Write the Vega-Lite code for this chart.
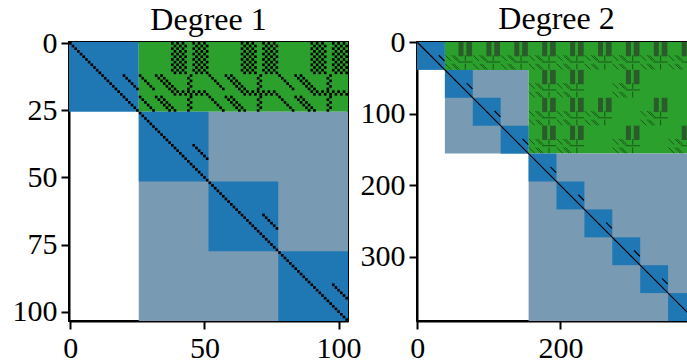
{
"$schema": "https://vega.github.io/schema/vega-lite/v6.json",
"padding": {"left": 11, "top": 2, "right": 0, "bottom": 0},
"background": "white",
"config": {
 "view": {"stroke": "black", "strokeWidth": 2},
 "axis": {"labelFont": "Liberation Serif", "labelFontSize": 30, "labelColor": "black", "tickColor": "black", "tickSize": 8, "tickWidth": 2, "domainColor": "black", "domainWidth": 2, "grid": false, "labelPadding": 4, "title": null, "labelFlush": false, "zindex": 1},
 "title": {"font": "Liberation Serif", "fontSize": 32, "fontWeight": "normal", "color": "black", "offset": -9, "anchor": "middle"}
},
"spacing": 69,
"bounds": "flush",
"resolve": {"scale": {"x": "independent", "y": "independent"}},
"hconcat": [
{
 "width": 279, "height": 279,
 "title": "Degree 1",
 "layer": [
  {"data": {"name": "blocks1"}, "mark": {"type": "rect"},
   "encoding": {
    "x": {"field": "c0", "type": "quantitative", "scale": {"domain": [-0.5, 103.5], "nice": false, "zero": false}, "axis": {"values": [0, 50, 100]}},
    "x2": {"field": "c1"},
    "y": {"field": "r0", "type": "quantitative", "scale": {"domain": [-0.5, 103.5], "nice": false, "zero": false, "reverse": true}, "axis": {"values": [0, 25, 50, 75, 100]}},
    "y2": {"field": "r1"},
    "color": {"field": "t", "type": "nominal", "scale": {"domain": ["diag", "coupling", "off"], "range": ["#1f77b4", "#2ca02c", "#789bb3"]}, "legend": null}
   }},
  {"data": {"name": "dots1"}, "mark": {"type": "square", "color": "black", "size": 7, "opacity": 1, "filled": true},
   "encoding": {"x": {"field": "c", "type": "quantitative"}, "y": {"field": "r", "type": "quantitative"}}}
 ]
},
{
 "width": 279, "height": 279,
 "title": "Degree 2",
 "layer": [
  {"data": {"name": "blocks2"}, "mark": {"type": "rect"},
   "encoding": {
    "x": {"field": "c0", "type": "quantitative", "scale": {"domain": [-0.5, 389.5], "nice": false, "zero": false}, "axis": {"values": [0, 200]}},
    "x2": {"field": "c1"},
    "y": {"field": "r0", "type": "quantitative", "scale": {"domain": [-0.5, 389.5], "nice": false, "zero": false, "reverse": true}, "axis": {"values": [0, 100, 200, 300]}},
    "y2": {"field": "r1"},
    "color": {"field": "t", "type": "nominal", "scale": {"domain": ["diag", "coupling", "off"], "range": ["#1f77b4", "#2ca02c", "#789bb3"]}, "legend": null}
   }},
  {"data": {"name": "bars2"}, "mark": {"type": "rect", "color": "#2a5c2a"},
   "encoding": {"x": {"field": "c0", "type": "quantitative"}, "x2": {"field": "c1"}, "y": {"field": "r0", "type": "quantitative"}, "y2": {"field": "r1"}}},
  {"data": {"name": "tiles2"}, "mark": {"type": "rule", "color": "#0f300f", "strokeWidth": 1, "opacity": 0.65},
   "encoding": {"x": {"field": "c0", "type": "quantitative"}, "x2": {"field": "c1"}, "y": {"field": "r0", "type": "quantitative"}, "y2": {"field": "r1"}}},
  {"data": {"name": "diag2"}, "mark": {"type": "rule", "color": "black", "strokeWidth": 1.2},
   "encoding": {"x": {"field": "c0", "type": "quantitative"}, "x2": {"field": "c1"}, "y": {"field": "r0", "type": "quantitative"}, "y2": {"field": "r1"}}}
 ]
}
],
"datasets": {
"blocks1": [
{"r0":-0.5,"r1":25.5,"c0":-0.5,"c1":25.5,"t":"diag"},
{"r0":-0.5,"r1":25.5,"c0":25.5,"c1":103.5,"t":"coupling"},
{"r0":25.5,"r1":103.5,"c0":25.5,"c1":103.5,"t":"off"},
{"r0":25.5,"r1":51.5,"c0":25.5,"c1":51.5,"t":"diag"},
{"r0":51.5,"r1":77.5,"c0":51.5,"c1":77.5,"t":"diag"},
{"r0":77.5,"r1":103.5,"c0":77.5,"c1":103.5,"t":"diag"}
],
"blocks2": [
{"r0":-0.5,"r1":38.5,"c0":38.5,"c1":389.5,"t":"coupling"},
{"r0":38.5,"r1":155.5,"c0":38.5,"c1":155.5,"t":"off"},
{"r0":38.5,"r1":155.5,"c0":155.5,"c1":389.5,"t":"coupling"},
{"r0":155.5,"r1":389.5,"c0":155.5,"c1":389.5,"t":"off"},
{"r0":-0.5,"r1":38.5,"c0":-0.5,"c1":38.5,"t":"diag"},
{"r0":38.5,"r1":77.5,"c0":38.5,"c1":77.5,"t":"diag"},
{"r0":77.5,"r1":116.5,"c0":77.5,"c1":116.5,"t":"diag"},
{"r0":116.5,"r1":155.5,"c0":116.5,"c1":155.5,"t":"diag"},
{"r0":155.5,"r1":194.5,"c0":155.5,"c1":194.5,"t":"diag"},
{"r0":194.5,"r1":233.5,"c0":194.5,"c1":233.5,"t":"diag"},
{"r0":233.5,"r1":272.5,"c0":233.5,"c1":272.5,"t":"diag"},
{"r0":272.5,"r1":311.5,"c0":272.5,"c1":311.5,"t":"diag"},
{"r0":311.5,"r1":350.5,"c0":311.5,"c1":350.5,"t":"diag"},
{"r0":350.5,"r1":389.5,"c0":350.5,"c1":389.5,"t":"diag"}
],
"bars2": [
{"r0":-0.5,"r1":19.5,"c0":57.5,"c1":64.5},{"r0":-0.5,"r1":19.5,"c0":68.5,"c1":76.5},
{"r0":-0.5,"r1":19.5,"c0":96.5,"c1":103.5},{"r0":-0.5,"r1":19.5,"c0":107.5,"c1":115.5},
{"r0":-0.5,"r1":19.5,"c0":135.5,"c1":142.5},{"r0":-0.5,"r1":19.5,"c0":146.5,"c1":154.5},
{"r0":-0.5,"r1":19.5,"c0":174.5,"c1":181.5},{"r0":-0.5,"r1":19.5,"c0":185.5,"c1":193.5},
{"r0":-0.5,"r1":19.5,"c0":213.5,"c1":220.5},{"r0":-0.5,"r1":19.5,"c0":224.5,"c1":232.5},
{"r0":-0.5,"r1":19.5,"c0":252.5,"c1":259.5},{"r0":-0.5,"r1":19.5,"c0":263.5,"c1":271.5},
{"r0":-0.5,"r1":19.5,"c0":291.5,"c1":298.5},{"r0":-0.5,"r1":19.5,"c0":302.5,"c1":310.5},
{"r0":-0.5,"r1":19.5,"c0":330.5,"c1":337.5},{"r0":-0.5,"r1":19.5,"c0":341.5,"c1":349.5},
{"r0":-0.5,"r1":19.5,"c0":369.5,"c1":376.5},{"r0":-0.5,"r1":19.5,"c0":380.5,"c1":388.5},
{"r0":38.5,"r1":58.5,"c0":174.5,"c1":181.5},{"r0":38.5,"r1":58.5,"c0":185.5,"c1":193.5},
{"r0":38.5,"r1":58.5,"c0":213.5,"c1":220.5},{"r0":38.5,"r1":58.5,"c0":224.5,"c1":232.5},
{"r0":38.5,"r1":58.5,"c0":291.5,"c1":298.5},{"r0":38.5,"r1":58.5,"c0":302.5,"c1":310.5},
{"r0":77.5,"r1":97.5,"c0":174.5,"c1":181.5},{"r0":77.5,"r1":97.5,"c0":185.5,"c1":193.5},
{"r0":77.5,"r1":97.5,"c0":213.5,"c1":220.5},{"r0":77.5,"r1":97.5,"c0":224.5,"c1":232.5},
{"r0":77.5,"r1":97.5,"c0":252.5,"c1":259.5},{"r0":77.5,"r1":97.5,"c0":263.5,"c1":271.5},
{"r0":77.5,"r1":97.5,"c0":330.5,"c1":337.5},{"r0":77.5,"r1":97.5,"c0":341.5,"c1":349.5},
{"r0":116.5,"r1":136.5,"c0":174.5,"c1":181.5},{"r0":116.5,"r1":136.5,"c0":185.5,"c1":193.5},
{"r0":116.5,"r1":136.5,"c0":213.5,"c1":220.5},{"r0":116.5,"r1":136.5,"c0":224.5,"c1":232.5},
{"r0":116.5,"r1":136.5,"c0":291.5,"c1":298.5},{"r0":116.5,"r1":136.5,"c0":302.5,"c1":310.5},
{"r0":116.5,"r1":136.5,"c0":369.5,"c1":376.5},{"r0":116.5,"r1":136.5,"c0":380.5,"c1":388.5}
],
"diag2": [
{"r0":-0.5,"c0":-0.5,"r1":389.5,"c1":389.5},
{"r0":18,"c0":30,"r1":26,"c1":38},{"r0":57,"c0":69,"r1":65,"c1":77},{"r0":96,"c0":108,"r1":104,"c1":116},{"r0":135,"c0":147,"r1":143,"c1":155},{"r0":174,"c0":186,"r1":182,"c1":194},{"r0":213,"c0":225,"r1":221,"c1":233},{"r0":252,"c0":264,"r1":260,"c1":272},{"r0":291,"c0":303,"r1":299,"c1":311},{"r0":330,"c0":342,"r1":338,"c1":350},{"r0":369,"c0":381,"r1":377,"c1":389}
],
"tiles2": [
{"r0":18,"c0":39,"r1":26,"c1":47},{"r0":18,"c0":48,"r1":26,"c1":56},{"r0":18,"c0":51,"r1":26,"c1":59},{"r0":18,"c0":67,"r1":26,"c1":67},{"r0":27.5,"c0":57,"r1":27.5,"c1":77},{"r0":30,"c0":39,"r1":38,"c1":47},{"r0":30,"c0":48,"r1":38,"c1":56},{"r0":30,"c0":51,"r1":38,"c1":59},{"r0":30,"c0":67,"r1":38,"c1":67},
{"r0":18,"c0":78,"r1":26,"c1":86},{"r0":18,"c0":87,"r1":26,"c1":95},{"r0":18,"c0":90,"r1":26,"c1":98},{"r0":18,"c0":106,"r1":26,"c1":106},{"r0":27.5,"c0":96,"r1":27.5,"c1":116},{"r0":30,"c0":78,"r1":38,"c1":86},{"r0":30,"c0":87,"r1":38,"c1":95},{"r0":30,"c0":90,"r1":38,"c1":98},{"r0":30,"c0":106,"r1":38,"c1":106},
{"r0":18,"c0":117,"r1":26,"c1":125},{"r0":18,"c0":126,"r1":26,"c1":134},{"r0":18,"c0":129,"r1":26,"c1":137},{"r0":18,"c0":145,"r1":26,"c1":145},{"r0":27.5,"c0":135,"r1":27.5,"c1":155},{"r0":30,"c0":117,"r1":38,"c1":125},{"r0":30,"c0":126,"r1":38,"c1":134},{"r0":30,"c0":129,"r1":38,"c1":137},{"r0":30,"c0":145,"r1":38,"c1":145},
{"r0":18,"c0":156,"r1":26,"c1":164},{"r0":18,"c0":165,"r1":26,"c1":173},{"r0":18,"c0":168,"r1":26,"c1":176},{"r0":18,"c0":184,"r1":26,"c1":184},{"r0":27.5,"c0":174,"r1":27.5,"c1":194},{"r0":30,"c0":156,"r1":38,"c1":164},{"r0":30,"c0":165,"r1":38,"c1":173},{"r0":30,"c0":168,"r1":38,"c1":176},{"r0":30,"c0":184,"r1":38,"c1":184},
{"r0":18,"c0":195,"r1":26,"c1":203},{"r0":18,"c0":204,"r1":26,"c1":212},{"r0":18,"c0":207,"r1":26,"c1":215},{"r0":18,"c0":223,"r1":26,"c1":223},{"r0":27.5,"c0":213,"r1":27.5,"c1":233},{"r0":30,"c0":195,"r1":38,"c1":203},{"r0":30,"c0":204,"r1":38,"c1":212},{"r0":30,"c0":207,"r1":38,"c1":215},{"r0":30,"c0":223,"r1":38,"c1":223},
{"r0":18,"c0":234,"r1":26,"c1":242},{"r0":18,"c0":243,"r1":26,"c1":251},{"r0":18,"c0":246,"r1":26,"c1":254},{"r0":18,"c0":262,"r1":26,"c1":262},{"r0":27.5,"c0":252,"r1":27.5,"c1":272},{"r0":30,"c0":234,"r1":38,"c1":242},{"r0":30,"c0":243,"r1":38,"c1":251},{"r0":30,"c0":246,"r1":38,"c1":254},{"r0":30,"c0":262,"r1":38,"c1":262},
{"r0":18,"c0":273,"r1":26,"c1":281},{"r0":18,"c0":282,"r1":26,"c1":290},{"r0":18,"c0":285,"r1":26,"c1":293},{"r0":18,"c0":301,"r1":26,"c1":301},{"r0":27.5,"c0":291,"r1":27.5,"c1":311},{"r0":30,"c0":273,"r1":38,"c1":281},{"r0":30,"c0":282,"r1":38,"c1":290},{"r0":30,"c0":285,"r1":38,"c1":293},{"r0":30,"c0":301,"r1":38,"c1":301},
{"r0":18,"c0":312,"r1":26,"c1":320},{"r0":18,"c0":321,"r1":26,"c1":329},{"r0":18,"c0":324,"r1":26,"c1":332},{"r0":18,"c0":340,"r1":26,"c1":340},{"r0":27.5,"c0":330,"r1":27.5,"c1":350},{"r0":30,"c0":312,"r1":38,"c1":320},{"r0":30,"c0":321,"r1":38,"c1":329},{"r0":30,"c0":324,"r1":38,"c1":332},{"r0":30,"c0":340,"r1":38,"c1":340},
{"r0":18,"c0":351,"r1":26,"c1":359},{"r0":18,"c0":360,"r1":26,"c1":368},{"r0":18,"c0":363,"r1":26,"c1":371},{"r0":18,"c0":379,"r1":26,"c1":379},{"r0":27.5,"c0":369,"r1":27.5,"c1":389},{"r0":30,"c0":351,"r1":38,"c1":359},{"r0":30,"c0":360,"r1":38,"c1":368},{"r0":30,"c0":363,"r1":38,"c1":371},{"r0":30,"c0":379,"r1":38,"c1":379},
{"r0":57,"c0":156,"r1":65,"c1":164},{"r0":57,"c0":165,"r1":65,"c1":173},{"r0":57,"c0":168,"r1":65,"c1":176},{"r0":57,"c0":184,"r1":65,"c1":184},{"r0":66.5,"c0":174,"r1":66.5,"c1":194},{"r0":69,"c0":156,"r1":77,"c1":164},{"r0":69,"c0":165,"r1":77,"c1":173},{"r0":69,"c0":168,"r1":77,"c1":176},{"r0":69,"c0":184,"r1":77,"c1":184},
{"r0":57,"c0":195,"r1":65,"c1":203},{"r0":57,"c0":204,"r1":65,"c1":212},{"r0":57,"c0":207,"r1":65,"c1":215},{"r0":57,"c0":223,"r1":65,"c1":223},{"r0":66.5,"c0":213,"r1":66.5,"c1":233},{"r0":69,"c0":195,"r1":77,"c1":203},{"r0":69,"c0":204,"r1":77,"c1":212},{"r0":69,"c0":207,"r1":77,"c1":215},{"r0":69,"c0":223,"r1":77,"c1":223},
{"r0":57,"c0":273,"r1":65,"c1":281},{"r0":57,"c0":282,"r1":65,"c1":290},{"r0":57,"c0":285,"r1":65,"c1":293},{"r0":57,"c0":301,"r1":65,"c1":301},{"r0":66.5,"c0":291,"r1":66.5,"c1":311},{"r0":69,"c0":273,"r1":77,"c1":281},{"r0":69,"c0":282,"r1":77,"c1":290},{"r0":69,"c0":285,"r1":77,"c1":293},{"r0":69,"c0":301,"r1":77,"c1":301},
{"r0":96,"c0":156,"r1":104,"c1":164},{"r0":96,"c0":165,"r1":104,"c1":173},{"r0":96,"c0":168,"r1":104,"c1":176},{"r0":96,"c0":184,"r1":104,"c1":184},{"r0":105.5,"c0":174,"r1":105.5,"c1":194},{"r0":108,"c0":156,"r1":116,"c1":164},{"r0":108,"c0":165,"r1":116,"c1":173},{"r0":108,"c0":168,"r1":116,"c1":176},{"r0":108,"c0":184,"r1":116,"c1":184},
{"r0":96,"c0":195,"r1":104,"c1":203},{"r0":96,"c0":204,"r1":104,"c1":212},{"r0":96,"c0":207,"r1":104,"c1":215},{"r0":96,"c0":223,"r1":104,"c1":223},{"r0":105.5,"c0":213,"r1":105.5,"c1":233},{"r0":108,"c0":195,"r1":116,"c1":203},{"r0":108,"c0":204,"r1":116,"c1":212},{"r0":108,"c0":207,"r1":116,"c1":215},{"r0":108,"c0":223,"r1":116,"c1":223},
{"r0":96,"c0":234,"r1":104,"c1":242},{"r0":96,"c0":243,"r1":104,"c1":251},{"r0":96,"c0":246,"r1":104,"c1":254},{"r0":96,"c0":262,"r1":104,"c1":262},{"r0":105.5,"c0":252,"r1":105.5,"c1":272},{"r0":108,"c0":234,"r1":116,"c1":242},{"r0":108,"c0":243,"r1":116,"c1":251},{"r0":108,"c0":246,"r1":116,"c1":254},{"r0":108,"c0":262,"r1":116,"c1":262},
{"r0":96,"c0":312,"r1":104,"c1":320},{"r0":96,"c0":321,"r1":104,"c1":329},{"r0":96,"c0":324,"r1":104,"c1":332},{"r0":96,"c0":340,"r1":104,"c1":340},{"r0":105.5,"c0":330,"r1":105.5,"c1":350},{"r0":108,"c0":312,"r1":116,"c1":320},{"r0":108,"c0":321,"r1":116,"c1":329},{"r0":108,"c0":324,"r1":116,"c1":332},{"r0":108,"c0":340,"r1":116,"c1":340},
{"r0":135,"c0":156,"r1":143,"c1":164},{"r0":135,"c0":165,"r1":143,"c1":173},{"r0":135,"c0":168,"r1":143,"c1":176},{"r0":135,"c0":184,"r1":143,"c1":184},{"r0":144.5,"c0":174,"r1":144.5,"c1":194},{"r0":147,"c0":156,"r1":155,"c1":164},{"r0":147,"c0":165,"r1":155,"c1":173},{"r0":147,"c0":168,"r1":155,"c1":176},{"r0":147,"c0":184,"r1":155,"c1":184},
{"r0":135,"c0":195,"r1":143,"c1":203},{"r0":135,"c0":204,"r1":143,"c1":212},{"r0":135,"c0":207,"r1":143,"c1":215},{"r0":135,"c0":223,"r1":143,"c1":223},{"r0":144.5,"c0":213,"r1":144.5,"c1":233},{"r0":147,"c0":195,"r1":155,"c1":203},{"r0":147,"c0":204,"r1":155,"c1":212},{"r0":147,"c0":207,"r1":155,"c1":215},{"r0":147,"c0":223,"r1":155,"c1":223},
{"r0":135,"c0":273,"r1":143,"c1":281},{"r0":135,"c0":282,"r1":143,"c1":290},{"r0":135,"c0":285,"r1":143,"c1":293},{"r0":135,"c0":301,"r1":143,"c1":301},{"r0":144.5,"c0":291,"r1":144.5,"c1":311},{"r0":147,"c0":273,"r1":155,"c1":281},{"r0":147,"c0":282,"r1":155,"c1":290},{"r0":147,"c0":285,"r1":155,"c1":293},{"r0":147,"c0":301,"r1":155,"c1":301},
{"r0":135,"c0":351,"r1":143,"c1":359},{"r0":135,"c0":360,"r1":143,"c1":368},{"r0":135,"c0":363,"r1":143,"c1":371},{"r0":135,"c0":379,"r1":143,"c1":379},{"r0":144.5,"c0":369,"r1":144.5,"c1":389},{"r0":147,"c0":351,"r1":155,"c1":359},{"r0":147,"c0":360,"r1":155,"c1":368},{"r0":147,"c0":363,"r1":155,"c1":371},{"r0":147,"c0":379,"r1":155,"c1":379}
],
"dots1": [
{"r":0,"c":0},{"r":1,"c":1},{"r":2,"c":2},{"r":3,"c":3},{"r":4,"c":4},{"r":5,"c":5},{"r":6,"c":6},{"r":7,"c":7},{"r":8,"c":8},{"r":9,"c":9},
{"r":10,"c":10},{"r":11,"c":11},{"r":12,"c":12},{"r":13,"c":13},{"r":14,"c":14},{"r":15,"c":15},{"r":16,"c":16},{"r":17,"c":17},{"r":18,"c":18},{"r":19,"c":19},
{"r":20,"c":20},{"r":21,"c":21},{"r":22,"c":22},{"r":23,"c":23},{"r":24,"c":24},{"r":25,"c":25},{"r":26,"c":26},{"r":27,"c":27},{"r":28,"c":28},{"r":29,"c":29},
{"r":30,"c":30},{"r":31,"c":31},{"r":32,"c":32},{"r":33,"c":33},{"r":34,"c":34},{"r":35,"c":35},{"r":36,"c":36},{"r":37,"c":37},{"r":38,"c":38},{"r":39,"c":39},
{"r":40,"c":40},{"r":41,"c":41},{"r":42,"c":42},{"r":43,"c":43},{"r":44,"c":44},{"r":45,"c":45},{"r":46,"c":46},{"r":47,"c":47},{"r":48,"c":48},{"r":49,"c":49},
{"r":50,"c":50},{"r":51,"c":51},{"r":52,"c":52},{"r":53,"c":53},{"r":54,"c":54},{"r":55,"c":55},{"r":56,"c":56},{"r":57,"c":57},{"r":58,"c":58},{"r":59,"c":59},
{"r":60,"c":60},{"r":61,"c":61},{"r":62,"c":62},{"r":63,"c":63},{"r":64,"c":64},{"r":65,"c":65},{"r":66,"c":66},{"r":67,"c":67},{"r":68,"c":68},{"r":69,"c":69},
{"r":70,"c":70},{"r":71,"c":71},{"r":72,"c":72},{"r":73,"c":73},{"r":74,"c":74},{"r":75,"c":75},{"r":76,"c":76},{"r":77,"c":77},{"r":78,"c":78},{"r":79,"c":79},
{"r":80,"c":80},{"r":81,"c":81},{"r":82,"c":82},{"r":83,"c":83},{"r":84,"c":84},{"r":85,"c":85},{"r":86,"c":86},{"r":87,"c":87},{"r":88,"c":88},{"r":89,"c":89},
{"r":90,"c":90},{"r":91,"c":91},{"r":92,"c":92},{"r":93,"c":93},{"r":94,"c":94},{"r":95,"c":95},{"r":96,"c":96},{"r":97,"c":97},{"r":98,"c":98},{"r":99,"c":99},
{"r":100,"c":100},{"r":101,"c":101},{"r":102,"c":102},{"r":103,"c":103},
{"r":12,"c":20},{"r":13,"c":21},{"r":14,"c":22},{"r":15,"c":23},{"r":16,"c":24},{"r":17,"c":25},
{"r":38,"c":46},{"r":39,"c":47},{"r":40,"c":48},{"r":41,"c":49},{"r":42,"c":50},{"r":43,"c":51},
{"r":64,"c":72},{"r":65,"c":73},{"r":66,"c":74},{"r":67,"c":75},{"r":68,"c":76},{"r":69,"c":77},
{"r":90,"c":98},{"r":91,"c":99},{"r":92,"c":100},{"r":93,"c":101},{"r":94,"c":102},{"r":95,"c":103},
{"r":0,"c":38},{"r":0,"c":40},{"r":0,"c":42},{"r":0,"c":46},{"r":0,"c":48},{"r":0,"c":50},{"r":0,"c":64},{"r":0,"c":66},{"r":0,"c":68},{"r":0,"c":72},{"r":0,"c":74},{"r":0,"c":76},{"r":0,"c":90},{"r":0,"c":92},{"r":0,"c":94},{"r":0,"c":98},{"r":0,"c":100},{"r":0,"c":102},
{"r":1,"c":39},{"r":1,"c":41},{"r":1,"c":43},{"r":1,"c":47},{"r":1,"c":49},{"r":1,"c":51},{"r":1,"c":65},{"r":1,"c":67},{"r":1,"c":69},{"r":1,"c":73},{"r":1,"c":75},{"r":1,"c":77},{"r":1,"c":91},{"r":1,"c":93},{"r":1,"c":95},{"r":1,"c":99},{"r":1,"c":101},{"r":1,"c":103},
{"r":2,"c":38},{"r":2,"c":40},{"r":2,"c":42},{"r":2,"c":46},{"r":2,"c":48},{"r":2,"c":50},{"r":2,"c":64},{"r":2,"c":66},{"r":2,"c":68},{"r":2,"c":72},{"r":2,"c":74},{"r":2,"c":76},{"r":2,"c":90},{"r":2,"c":92},{"r":2,"c":94},{"r":2,"c":98},{"r":2,"c":100},{"r":2,"c":102},
{"r":3,"c":39},{"r":3,"c":41},{"r":3,"c":43},{"r":3,"c":47},{"r":3,"c":49},{"r":3,"c":51},{"r":3,"c":65},{"r":3,"c":67},{"r":3,"c":69},{"r":3,"c":73},{"r":3,"c":75},{"r":3,"c":77},{"r":3,"c":91},{"r":3,"c":93},{"r":3,"c":95},{"r":3,"c":99},{"r":3,"c":101},{"r":3,"c":103},
{"r":4,"c":38},{"r":4,"c":40},{"r":4,"c":42},{"r":4,"c":46},{"r":4,"c":48},{"r":4,"c":50},{"r":4,"c":64},{"r":4,"c":66},{"r":4,"c":68},{"r":4,"c":72},{"r":4,"c":74},{"r":4,"c":76},{"r":4,"c":90},{"r":4,"c":92},{"r":4,"c":94},{"r":4,"c":98},{"r":4,"c":100},{"r":4,"c":102},
{"r":5,"c":39},{"r":5,"c":41},{"r":5,"c":43},{"r":5,"c":47},{"r":5,"c":49},{"r":5,"c":51},{"r":5,"c":65},{"r":5,"c":67},{"r":5,"c":69},{"r":5,"c":73},{"r":5,"c":75},{"r":5,"c":77},{"r":5,"c":91},{"r":5,"c":93},{"r":5,"c":95},{"r":5,"c":99},{"r":5,"c":101},{"r":5,"c":103},
{"r":6,"c":38},{"r":6,"c":40},{"r":6,"c":42},{"r":6,"c":46},{"r":6,"c":48},{"r":6,"c":50},{"r":6,"c":64},{"r":6,"c":66},{"r":6,"c":68},{"r":6,"c":72},{"r":6,"c":74},{"r":6,"c":76},{"r":6,"c":90},{"r":6,"c":92},{"r":6,"c":94},{"r":6,"c":98},{"r":6,"c":100},{"r":6,"c":102},
{"r":7,"c":39},{"r":7,"c":41},{"r":7,"c":43},{"r":7,"c":47},{"r":7,"c":49},{"r":7,"c":51},{"r":7,"c":65},{"r":7,"c":67},{"r":7,"c":69},{"r":7,"c":73},{"r":7,"c":75},{"r":7,"c":77},{"r":7,"c":91},{"r":7,"c":93},{"r":7,"c":95},{"r":7,"c":99},{"r":7,"c":101},{"r":7,"c":103},
{"r":8,"c":38},{"r":8,"c":40},{"r":8,"c":42},{"r":8,"c":46},{"r":8,"c":48},{"r":8,"c":50},{"r":8,"c":64},{"r":8,"c":66},{"r":8,"c":68},{"r":8,"c":72},{"r":8,"c":74},{"r":8,"c":76},{"r":8,"c":90},{"r":8,"c":92},{"r":8,"c":94},{"r":8,"c":98},{"r":8,"c":100},{"r":8,"c":102},
{"r":9,"c":39},{"r":9,"c":41},{"r":9,"c":43},{"r":9,"c":47},{"r":9,"c":49},{"r":9,"c":51},{"r":9,"c":65},{"r":9,"c":67},{"r":9,"c":69},{"r":9,"c":73},{"r":9,"c":75},{"r":9,"c":77},{"r":9,"c":91},{"r":9,"c":93},{"r":9,"c":95},{"r":9,"c":99},{"r":9,"c":101},{"r":9,"c":103},
{"r":10,"c":38},{"r":10,"c":40},{"r":10,"c":42},{"r":10,"c":46},{"r":10,"c":48},{"r":10,"c":50},{"r":10,"c":64},{"r":10,"c":66},{"r":10,"c":68},{"r":10,"c":72},{"r":10,"c":74},{"r":10,"c":76},{"r":10,"c":90},{"r":10,"c":92},{"r":10,"c":94},{"r":10,"c":98},{"r":10,"c":100},{"r":10,"c":102},
{"r":11,"c":39},{"r":11,"c":41},{"r":11,"c":43},{"r":11,"c":47},{"r":11,"c":49},{"r":11,"c":51},{"r":11,"c":65},{"r":11,"c":67},{"r":11,"c":69},{"r":11,"c":73},{"r":11,"c":75},{"r":11,"c":77},{"r":11,"c":91},{"r":11,"c":93},{"r":11,"c":95},{"r":11,"c":99},{"r":11,"c":101},{"r":11,"c":103},
{"r":12,"c":26},{"r":13,"c":27},{"r":14,"c":28},{"r":15,"c":29},{"r":16,"c":30},{"r":17,"c":31},
{"r":12,"c":52},{"r":13,"c":53},{"r":14,"c":54},{"r":15,"c":55},{"r":16,"c":56},{"r":17,"c":57},
{"r":12,"c":78},{"r":13,"c":79},{"r":14,"c":80},{"r":15,"c":81},{"r":16,"c":82},{"r":17,"c":83},
{"r":12,"c":32},{"r":13,"c":33},{"r":14,"c":34},{"r":15,"c":35},{"r":16,"c":36},{"r":17,"c":37},
{"r":12,"c":58},{"r":13,"c":59},{"r":14,"c":60},{"r":15,"c":61},{"r":16,"c":62},{"r":17,"c":63},
{"r":12,"c":84},{"r":13,"c":85},{"r":14,"c":86},{"r":15,"c":87},{"r":16,"c":88},{"r":17,"c":89},
{"r":12,"c":34},{"r":13,"c":35},{"r":14,"c":36},{"r":15,"c":37},{"r":16,"c":38},{"r":17,"c":39},
{"r":12,"c":60},{"r":13,"c":61},{"r":14,"c":62},{"r":15,"c":63},{"r":16,"c":64},{"r":17,"c":65},
{"r":12,"c":86},{"r":13,"c":87},{"r":14,"c":88},{"r":15,"c":89},{"r":16,"c":90},{"r":17,"c":91},
{"r":12,"c":45},{"r":13,"c":44},{"r":14,"c":45},{"r":15,"c":44},{"r":16,"c":45},{"r":17,"c":44},
{"r":12,"c":71},{"r":13,"c":70},{"r":14,"c":71},{"r":15,"c":70},{"r":16,"c":71},{"r":17,"c":70},
{"r":12,"c":97},{"r":13,"c":96},{"r":14,"c":97},{"r":15,"c":96},{"r":16,"c":97},{"r":17,"c":96},
{"r":18,"c":38},{"r":19,"c":39},{"r":18,"c":40},{"r":19,"c":41},{"r":18,"c":42},{"r":19,"c":43},{"r":18,"c":44},{"r":19,"c":45},{"r":18,"c":46},{"r":19,"c":47},{"r":18,"c":48},{"r":19,"c":49},{"r":18,"c":50},{"r":19,"c":51},
{"r":18,"c":64},{"r":19,"c":65},{"r":18,"c":66},{"r":19,"c":67},{"r":18,"c":68},{"r":19,"c":69},{"r":18,"c":70},{"r":19,"c":71},{"r":18,"c":72},{"r":19,"c":73},{"r":18,"c":74},{"r":19,"c":75},{"r":18,"c":76},{"r":19,"c":77},
{"r":18,"c":90},{"r":19,"c":91},{"r":18,"c":92},{"r":19,"c":93},{"r":18,"c":94},{"r":19,"c":95},{"r":18,"c":96},{"r":19,"c":97},{"r":18,"c":98},{"r":19,"c":99},{"r":18,"c":100},{"r":19,"c":101},{"r":18,"c":102},{"r":19,"c":103},
{"r":20,"c":26},{"r":21,"c":27},{"r":22,"c":28},{"r":23,"c":29},{"r":24,"c":30},{"r":25,"c":31},
{"r":20,"c":52},{"r":21,"c":53},{"r":22,"c":54},{"r":23,"c":55},{"r":24,"c":56},{"r":25,"c":57},
{"r":20,"c":78},{"r":21,"c":79},{"r":22,"c":80},{"r":23,"c":81},{"r":24,"c":82},{"r":25,"c":83},
{"r":20,"c":32},{"r":21,"c":33},{"r":22,"c":34},{"r":23,"c":35},{"r":24,"c":36},{"r":25,"c":37},
{"r":20,"c":58},{"r":21,"c":59},{"r":22,"c":60},{"r":23,"c":61},{"r":24,"c":62},{"r":25,"c":63},
{"r":20,"c":84},{"r":21,"c":85},{"r":22,"c":86},{"r":23,"c":87},{"r":24,"c":88},{"r":25,"c":89},
{"r":20,"c":34},{"r":21,"c":35},{"r":22,"c":36},{"r":23,"c":37},{"r":24,"c":38},{"r":25,"c":39},
{"r":20,"c":60},{"r":21,"c":61},{"r":22,"c":62},{"r":23,"c":63},{"r":24,"c":64},{"r":25,"c":65},
{"r":20,"c":86},{"r":21,"c":87},{"r":22,"c":88},{"r":23,"c":89},{"r":24,"c":90},{"r":25,"c":91},
{"r":20,"c":45},{"r":21,"c":44},{"r":22,"c":45},{"r":23,"c":44},{"r":24,"c":45},{"r":25,"c":44},
{"r":20,"c":71},{"r":21,"c":70},{"r":22,"c":71},{"r":23,"c":70},{"r":24,"c":71},{"r":25,"c":70},
{"r":20,"c":97},{"r":21,"c":96},{"r":22,"c":97},{"r":23,"c":96},{"r":24,"c":97},{"r":25,"c":96}
]
}
}
